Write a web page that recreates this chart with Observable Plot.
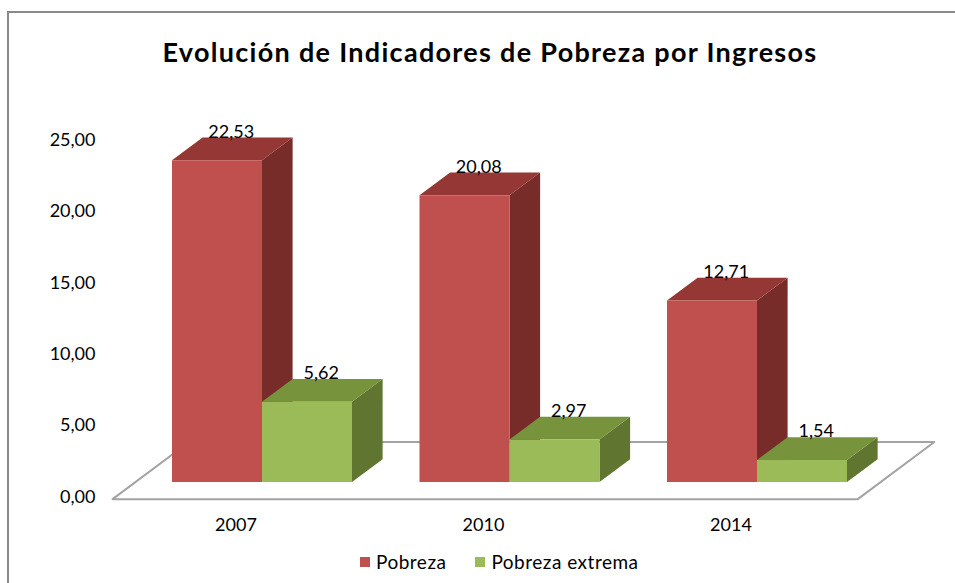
<!DOCTYPE html>
<html>
<head>
<meta charset="utf-8">
<script src="https://cdn.jsdelivr.net/npm/d3@7"></script>
<script src="https://cdn.jsdelivr.net/npm/@observablehq/plot@0.6"></script>
<style>
  html, body { margin: 0; padding: 0; background: #fff; }
  body { position: relative; width: 955px; height: 583px; overflow: hidden; font-family: Lato, sans-serif; }
  #frame { position: absolute; left: 7px; top: 11px; width: 990px; height: 640px; border: 2px solid #898989; box-sizing: border-box; }
  #title { position: absolute; left: 25px; width: 930px; top: 38px; text-align: center; font-family: Lato, sans-serif; font-weight: bold; font-size: 27px; line-height: 27px; letter-spacing: 1.3px; color: #000; white-space: nowrap; }
  #chart { position: absolute; left: 0; top: 100px; }
  #legend { position: absolute; left: 360px; top: 551px; display: flex; align-items: center; font-family: Lato, sans-serif; font-size: 19px; line-height: 22px; letter-spacing: 0.5px; color: #000; }
  .item { display: flex; align-items: center; margin-right: 29px; }
  .sw { width: 10px; height: 10px; margin-right: 6px; }
</style>
</head>
<body>
<div id="frame"></div>
<div id="title">Evolución de Indicadores de Pobreza por Ingresos</div>
<div id="chart"></div>
<div id="legend"></div>
<script>
// ---- data ----
const years = ["2007", "2010", "2014"];
const seriesNames = ["Pobreza", "Pobreza extrema"];
const pobreza = [22.53, 20.08, 12.71];
const pobrezaExtrema = [5.62, 2.97, 1.54];
const yTicks = [0, 5, 10, 15, 20, 25];

// ---- styles ----
const frontColors = ["#C0504D", "#9BBB59"];
const topColors = ["#953735", "#77933C"];
const sideColors = ["#772C2A", "#5F7530"];

// ---- 3D geometry (in data units: x = bar widths, y = value units) ----
const GROUP_STEP = 2.75, BAR_W = 1, GAP = GROUP_STEP - 2 * BAR_W;
const FLOOR_DX = 0.85, FLOOR_DY = 4.0, BAR_FRONT = 0.3, BAR_BACK = 0.7;
const BDX = (BAR_BACK - BAR_FRONT) * FLOOR_DX, BDY = (BAR_BACK - BAR_FRONT) * FLOOR_DY;
const seriesValues = [pobreza, pobrezaExtrema];

const bars = [];
years.forEach((yr, i) => {
  seriesValues.forEach((vals, s) => {
    bars.push({ id: yr + "-" + s, year: yr, s, value: vals[i], x0: i * GROUP_STEP + s * BAR_W });
  });
});
const tops = bars.flatMap(b => [
  { id: b.id, s: b.s, y: b.value, x1: b.x0, x2: b.x0 + BAR_W },
  { id: b.id, s: b.s, y: b.value + BDY, x1: b.x0 + BDX, x2: b.x0 + BAR_W + BDX }
]);
const sides = bars.flatMap(b => [
  { id: b.id, s: b.s, x: b.x0 + BAR_W, y1: 0, y2: b.value },
  { id: b.id, s: b.s, x: b.x0 + BAR_W + BDX, y1: BDY, y2: b.value + BDY }
]);
const floorY = -BAR_FRONT * FLOOR_DY;
const floorL = -GAP / 2 - BAR_FRONT * FLOOR_DX - 0.03;
const floorR = (years.length - 1) * GROUP_STEP + 2 * BAR_W + GAP / 2 - BAR_FRONT * FLOOR_DX;
const floor = [
  { y: floorY, x1: floorL, x2: floorR },
  { y: floorY + FLOOR_DY, x1: floorL + FLOOR_DX, x2: floorR + FLOOR_DX }
];
const fmt = v => v.toFixed(2).replace(".", ",");

const chart = Plot.plot({
  width: 955,
  height: 450,
  marginLeft: 109,
  marginRight: 18,
  marginTop: 25,
  marginBottom: 68,
  x: { type: "linear", domain: [-0.7, 8.5], axis: null },
  y: { domain: [0, 25], label: null, axis: null },
  style: { fontFamily: "Lato, sans-serif", fontSize: "18px", color: "#000", background: "transparent", overflow: "visible" },
  marks: [
    Plot.areaX(floor, { y: "y", x1: "x1", x2: "x2", fill: "white", stroke: "#A3A3A3", strokeWidth: 2 }),
    ...seriesNames.flatMap((name, s) => [
      Plot.areaY(sides.filter(d => d.s === s), { x: "x", y1: "y1", y2: "y2", z: "id", fill: sideColors[s] }),
      Plot.areaX(tops.filter(d => d.s === s), { y: "y", x1: "x1", x2: "x2", z: "id", fill: topColors[s] }),
      Plot.rect(bars.filter(d => d.s === s), { x1: "x0", x2: d => d.x0 + BAR_W, y1: d => 0, y2: "value", fill: frontColors[s] })
    ]),
    Plot.text(bars, {
      x: d => d.x0 + BAR_W / 2 + BDX * 0.45, y: d => d.value + BDY,
      text: d => fmt(d.value), dy: -6, fontSize: 18, fill: "#000"
    }),
    Plot.text(years, {
      x: (d, i) => i * GROUP_STEP + BAR_W - BAR_FRONT * FLOOR_DX - 0.04, y: () => floorY,
      text: d => d, dy: 26, fontSize: 18, fill: "#000"
    }),
    // y axis labels (no axis line, no ticks), offset like the reference's back plane
    Plot.text(yTicks, {
      x: () => -0.7, y: d => d, text: fmt,
      textAnchor: "end", dx: -14, dy: 14.5, fontSize: 18, fill: "#000"
    })
  ]
});
document.getElementById("chart").appendChild(chart);

const legend = document.getElementById("legend");
seriesNames.forEach((name, s) => {
  const item = document.createElement("div");
  item.className = "item";
  const sw = document.createElement("div");
  sw.className = "sw";
  sw.style.background = frontColors[s];
  const t = document.createElement("span");
  t.textContent = name;
  item.appendChild(sw);
  item.appendChild(t);
  legend.appendChild(item);
});
</script>
</body>
</html>
